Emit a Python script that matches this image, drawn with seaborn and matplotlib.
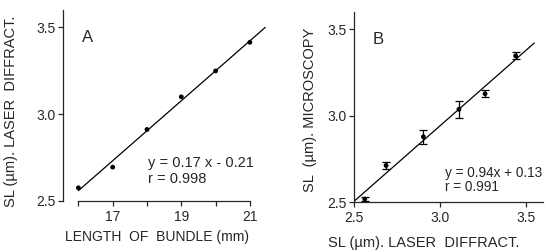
import numpy as np
import pandas as pd
import seaborn as sns
import matplotlib.pyplot as plt

# panel A: bundle length vs sarcomere length (laser diffraction)
bundle_len = [16, 17, 18, 19, 20, 21]
sl_laser_a = [2.576, 2.695, 2.912, 3.10, 3.249, 3.414]

# panel B: laser diffraction vs microscopy
sl_laser_b = [2.563, 2.687, 2.904, 3.111, 3.263, 3.441]
sl_micro = [2.517, 2.711, 2.877, 3.036, 3.126, 3.345]
sl_micro_err = [0.01, 0.02, 0.04, 0.05, 0.02, 0.02]

eq_a = ['y = 0.17 x - 0.21', 'r = 0.998']
eq_b = ['y = 0.94x + 0.13', 'r = 0.991']

sns.set_theme(style='ticks')
plt.rcParams['font.family'] = ['Liberation Sans', 'DejaVu Sans']
plt.rcParams['axes.linewidth'] = 0.9
plt.rcParams['xtick.major.width'] = 0.9
plt.rcParams['ytick.major.width'] = 0.9
plt.rcParams['xtick.major.size'] = 3.5
plt.rcParams['ytick.major.size'] = 3.5
plt.rcParams['xtick.major.pad'] = 3
plt.rcParams['ytick.major.pad'] = 2

fig = plt.figure(figsize=(5.5, 2.5), dpi=100)
ax1 = fig.add_axes([0.1145, 0.196, 0.371, 0.764])
ax2 = fig.add_axes([0.6436, 0.192, 0.3436, 0.761])

# --- A ---
df_a = pd.DataFrame({'x': bundle_len, 'y': sl_laser_a})
k, b = np.polyfit(df_a['x'], df_a['y'], 1)
fx = np.array([16, 21.45])
sns.lineplot(x=fx, y=k * fx + b, ax=ax1, color='black', lw=0.9)
sns.scatterplot(data=df_a, x='x', y='y', ax=ax1, color='black', s=12, edgecolor='none')
ax1.set_xlim(15.55, 21.5)
ax1.set_ylim(2.5, 3.6)
ax1.set_xticks(bundle_len)
ax1.set_xticklabels(['', '17', '', '19', '', '21'], fontsize=10)
ax1.set_yticks([2.5, 3.0, 3.5])
ax1.set_yticklabels(['2.5', '3.0', '3.5'], fontsize=10)
sns.despine(ax=ax1)
ax1.spines['bottom'].set_bounds(16, 21)
ax1.set_xlabel('LENGTH  OF  BUNDLE (mm)', fontsize=10)
ax1.set_ylabel('SL (µm). LASER  DIFFRACT.', fontsize=10.5)
ax1.xaxis.set_label_coords(0.46, -0.15)
ax1.yaxis.set_label_coords(-0.22, 0.47)
ax1.text(16.1, 3.44, 'A', fontsize=12, va='center')
ax1.text(18.04, 2.718, eq_a[0], fontsize=10.5, va='center')
ax1.text(18.04, 2.626, eq_a[1], fontsize=10.5, va='center')

# --- B ---
df_b = pd.DataFrame({'x': sl_laser_b, 'y': sl_micro, 'err': sl_micro_err})
k2, b2 = np.polyfit(df_b['x'], df_b['y'], 1)
fx2 = np.array([2.5, 3.55])
sns.lineplot(x=fx2, y=k2 * fx2 + b2, ax=ax2, color='black', lw=0.9)
ax2.errorbar(df_b['x'], df_b['y'], yerr=df_b['err'], fmt='none', ecolor='black',
             elinewidth=0.9, capsize=2.8, capthick=0.9)
sns.scatterplot(data=df_b, x='x', y='y', ax=ax2, color='black', s=12, edgecolor='none')
ax2.set_xlim(2.5, 3.6)
ax2.set_ylim(2.5, 3.6)
ax2.set_xticks([2.5, 3.0, 3.5])
ax2.set_xticklabels(['2.5', '3.0', '3.5'], fontsize=10)
ax2.set_yticks([2.5, 3.0, 3.5])
ax2.set_yticklabels(['2.5', '3.0', '3.5'], fontsize=10)
sns.despine(ax=ax2)
ax2.set_xlabel('SL (µm). LASER  DIFFRACT.', fontsize=10.5)
ax2.set_ylabel('SL  (µm). MICROSCOPY', fontsize=10.5)
ax2.xaxis.set_label_coords(0.368, -0.18)
ax2.yaxis.set_label_coords(-0.196, 0.483)
ax2.text(2.61, 3.44, 'B', fontsize=12, va='center')
ax2.text(3.03, 2.668, eq_b[0], fontsize=9.8, va='center', clip_on=False)
ax2.text(3.03, 2.584, eq_b[1], fontsize=9.8, va='center')

fig.savefig('out.png', dpi=100)
